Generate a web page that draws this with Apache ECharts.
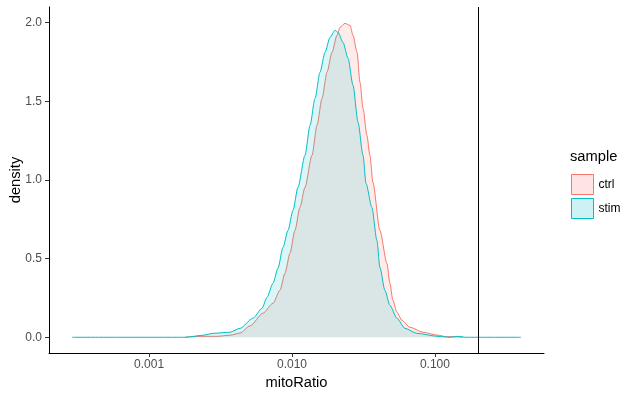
<!DOCTYPE html>
<html>
<head>
<meta charset="utf-8">
<script src="https://cdn.jsdelivr.net/npm/echarts@6/dist/echarts.min.js"></script>
<style>
html,body{margin:0;padding:0;background:#fff;}
#chart{width:635px;height:398px;}
</style>
</head>
<body>
<div id="chart"></div>
<script>
// mitoRatio values (x) and density values (y)
const ctrlX = [0.00179,0.00200,0.00239,0.00299,0.00368,0.00433,0.00508,0.00627,0.00736,0.00824,0.00893,0.00968,0.01049,0.01137,0.01233,0.01380,0.01496,0.01622,0.01758,0.01905,0.02065,0.02167,0.02349,0.02547,0.02673,0.02851,0.02992,0.03140,0.03343,0.03508,0.03681,0.04120,0.04613,0.04841,0.05080,0.05420,0.05875,0.06683,0.08238,0.1050,0.1194,0.1315,0.1570];
const ctrlY = [0.000,0.004,0.006,0.006,0.013,0.027,0.072,0.153,0.216,0.299,0.407,0.534,0.680,0.826,0.954,1.157,1.348,1.519,1.685,1.812,1.920,1.971,1.996,1.983,1.920,1.812,1.621,1.456,1.284,1.157,0.985,0.680,0.470,0.343,0.235,0.159,0.108,0.064,0.032,0.013,0.004,0.004,0.000];
const stimX = [0.000290,0.000627,0.00119,0.00179,0.00239,0.00281,0.00368,0.00433,0.00533,0.00617,0.00668,0.00736,0.00798,0.00865,0.00938,0.01016,0.01101,0.01233,0.01337,0.01449,0.01570,0.01702,0.01845,0.02000,0.02100,0.02276,0.02467,0.02673,0.02897,0.03140,0.03293,0.03622,0.03926,0.04120,0.04466,0.04841,0.05420,0.06166,0.07478,0.1050,0.1274,0.1449,0.1648,0.2427,0.399];
const stimY = [0.000,0.000,0.000,0.000,0.013,0.025,0.032,0.057,0.121,0.184,0.254,0.343,0.439,0.572,0.680,0.807,0.954,1.157,1.348,1.519,1.685,1.812,1.907,1.952,1.939,1.875,1.774,1.602,1.367,1.157,0.979,0.826,0.617,0.445,0.299,0.203,0.121,0.057,0.025,0.006,0.000,0.006,0.000,0.000,0.000];
const xTicks = [0.001, 0.01, 0.1];
const yTicks = [0, 0.5, 1, 1.5, 2];
const cutoff = 0.2;
const groups = ['ctrl', 'stim'];

const colors = {ctrl: '#F8766D', stim: '#00BFC4'};
const fills = {ctrl: 'rgba(248,118,109,0.2)', stim: 'rgba(0,191,196,0.2)'};
const FONT = 'Liberation Sans, Arial, sans-serif';

const chart = echarts.init(document.getElementById('chart'), null, {renderer: 'canvas'});
const toPts = (xs, ys) => xs.map((x, i) => [Math.log10(x), ys[i]]);

chart.setOption({
  animation: false,
  backgroundColor: '#fff',
  textStyle: {fontFamily: FONT},
  grid: {left: 49, right: 91, top: 7, bottom: 45, containLabel: false, outerBoundsMode: 'none'},
  title: {
    text: 'sample', left: 565, top: 144,
    textStyle: {fontSize: 14.7, fontWeight: 'normal', color: '#000', fontFamily: FONT}
  },
  legend: {
    orient: 'vertical', left: 566, top: 169,
    itemWidth: 22, itemHeight: 20, itemGap: 3,
    icon: 'rect',
    textStyle: {fontSize: 12, color: '#000', fontFamily: FONT},
    data: groups.map(g => ({name: g, itemStyle: {color: fills[g], borderColor: colors[g], borderWidth: 1}}))
  },
  xAxis: {
    type: 'value',
    min: -3.70, max: -0.237,
    name: 'mitoRatio', nameLocation: 'middle', nameGap: 22, nameMoveOverlap: false,
    nameTextStyle: {fontSize: 14.7, color: '#000', fontFamily: FONT},
    axisLine: {onZero: false, lineStyle: {color: '#000', width: 1}},
    axisTick: {customValues: xTicks.map(v => Math.log10(v)), length: 4, lineStyle: {color: '#333'}},
    axisLabel: {
      customValues: xTicks.map(v => Math.log10(v)),
      formatter: v => Math.pow(10, v).toFixed(3),
      fontSize: 12, color: '#4D4D4D', margin: 6, fontFamily: FONT
    },
    splitLine: {show: false}
  },
  yAxis: {
    type: 'value',
    min: -0.1, max: 2.1,
    name: 'density', nameLocation: 'middle', nameGap: 26, nameRotate: 90, nameMoveOverlap: false,
    nameTextStyle: {fontSize: 14.7, color: '#000', fontFamily: FONT},
    axisLine: {show: true, onZero: false, lineStyle: {color: '#000', width: 1}},
    axisTick: {show: true, customValues: yTicks, length: 4, lineStyle: {color: '#333'}},
    axisLabel: {
      customValues: yTicks,
      formatter: v => v.toFixed(1),
      fontSize: 12, color: '#4D4D4D', margin: 7, fontFamily: FONT
    },
    splitLine: {show: false}
  },
  series: [
    {
      name: 'ctrl', type: 'line', data: toPts(ctrlX, ctrlY),
      smooth: 0.25, smoothMonotone: 'x', showSymbol: false, symbol: 'none',
      lineStyle: {color: colors.ctrl, width: 1},
      itemStyle: {color: colors.ctrl},
      areaStyle: {color: fills.ctrl, origin: 'auto'},
      z: 2
    },
    {
      name: 'stim', type: 'line', data: toPts(stimX, stimY),
      smooth: 0.25, smoothMonotone: 'x', showSymbol: false, symbol: 'none',
      lineStyle: {color: colors.stim, width: 1},
      itemStyle: {color: colors.stim},
      areaStyle: {color: fills.stim, origin: 'auto'},
      z: 3,
      markLine: {
        silent: true, symbol: ['none', 'none'],
        label: {show: false},
        lineStyle: {color: '#000', width: 1, type: 'solid'},
        emphasis: {disabled: true},
        data: [{xAxis: Math.log10(cutoff)}]
      }
    }
  ]
});
</script>
</body>
</html>
